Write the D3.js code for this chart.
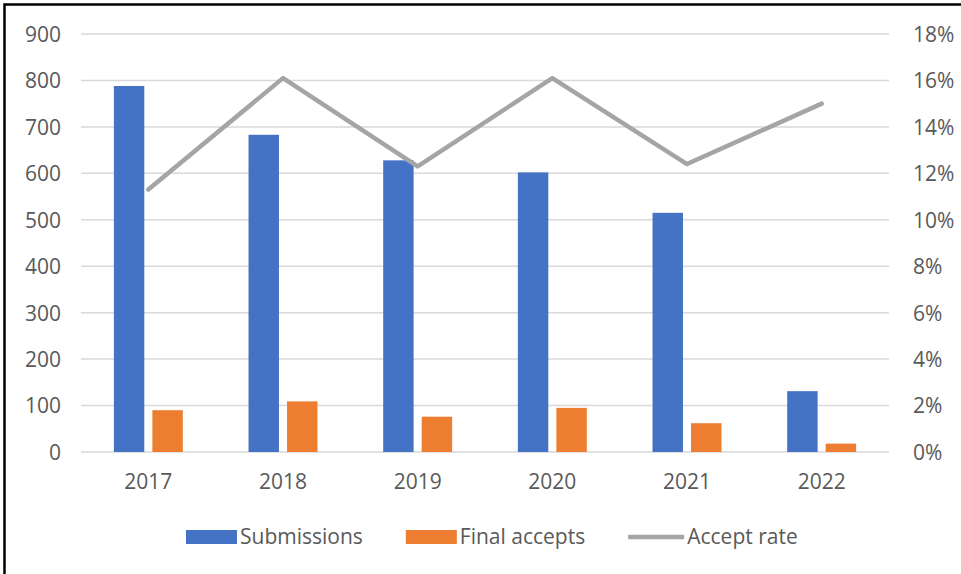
<!DOCTYPE html>
<html>
<head>
<meta charset="utf-8">
<script src="https://cdn.jsdelivr.net/npm/d3@7"></script>
<style>
  html, body { margin: 0; padding: 0; background: #fff; }
  svg text { font-family: "Open Sans", Lato, sans-serif; fill: #595959; }
</style>
</head>
<body>
<div id="chart"></div>
<script>
// Data
const years = ["2017", "2018", "2019", "2020", "2021", "2022"];
const submissions = [788, 683, 628, 602, 515, 131];
const finalAccepts = [90, 109, 76, 95, 62, 18];
const acceptRate = [0.113, 0.161, 0.123, 0.161, 0.124, 0.150];
const leftTicks = [0, 100, 200, 300, 400, 500, 600, 700, 800, 900];
const rightTicks = [0, 0.02, 0.04, 0.06, 0.08, 0.10, 0.12, 0.14, 0.16, 0.18];
const seriesNames = ["Submissions", "Final accepts", "Accept rate"];
const colors = { "Submissions": "#4472c4", "Final accepts": "#ed7d31", "Accept rate": "#a5a5a5" };

const width = 961, height = 574;
const margin = { top: 34, right: 72, bottom: 122, left: 81 };
const fontSize = "21px";

const svg = d3.select("#chart").append("svg")
    .attr("width", width)
    .attr("height", height);

// outer frame (only top and left edges show in the picture)
svg.append("rect")
    .attr("x", 4.5).attr("y", 4.5)
    .attr("width", width + 20).attr("height", height + 20)
    .attr("fill", "none")
    .attr("stroke", "#000")
    .attr("stroke-width", 2.5);

const x = d3.scaleBand()
    .domain(years)
    .range([margin.left, width - margin.right]);

const yLeft = d3.scaleLinear()
    .domain([0, 900])
    .range([height - margin.bottom, margin.top]);

const yRight = d3.scaleLinear()
    .domain([0, 0.18])
    .range([height - margin.bottom, margin.top]);

const groupWidth = x.bandwidth() * 0.512;
const xSub = d3.scaleBand()
    .domain(["Submissions", "Final accepts"])
    .range([-groupWidth / 2, groupWidth / 2])
    .paddingInner(0.21);

// gridlines
svg.append("g")
    .selectAll("line")
    .data(leftTicks)
    .join("line")
    .attr("x1", margin.left)
    .attr("x2", width - margin.right)
    .attr("y1", d => yLeft(d))
    .attr("y2", d => yLeft(d))
    .attr("stroke", "#d9d9d9")
    .attr("stroke-width", 1.5);

// left axis labels
const leftAxis = svg.append("g")
    .attr("transform", `translate(${margin.left - 20},0)`)
    .call(d3.axisLeft(yLeft).tickValues(leftTicks).tickSize(0).tickPadding(0));
leftAxis.select(".domain").remove();
leftAxis.selectAll("text")
    .style("font-size", fontSize)
    .style("fill", "#595959")
    .attr("dy", "0.35em");

// right axis labels
const rightAxis = svg.append("g")
    .attr("transform", `translate(${width - margin.right + 24},0)`)
    .call(d3.axisRight(yRight).tickValues(rightTicks).tickFormat(d3.format(".0%")).tickSize(0).tickPadding(0));
rightAxis.select(".domain").remove();
rightAxis.selectAll("text")
    .style("font-size", fontSize)
    .style("fill", "#595959")
    .attr("dy", "0.35em");

// x axis labels
const xAxis = svg.append("g")
    .attr("transform", `translate(0,${height - margin.bottom + 22})`)
    .call(d3.axisBottom(x).tickSize(0).tickPadding(0));
xAxis.select(".domain").remove();
xAxis.selectAll("text")
    .style("font-size", fontSize)
    .style("fill", "#595959")
    .attr("dy", "0.71em");

// bars
const barSeries = [
    { name: "Submissions", values: submissions },
    { name: "Final accepts", values: finalAccepts }
];

barSeries.forEach(s => {
    svg.append("g")
        .selectAll("rect")
        .data(s.values)
        .join("rect")
        .attr("x", (d, i) => x(years[i]) + x.bandwidth() / 2 + xSub(s.name))
        .attr("y", d => yLeft(d))
        .attr("width", xSub.bandwidth())
        .attr("height", d => yLeft(0) - yLeft(d))
        .attr("fill", colors[s.name]);
});

// accept rate line
const line = d3.line()
    .x((d, i) => x(years[i]) + x.bandwidth() / 2)
    .y(d => yRight(d));

svg.append("path")
    .datum(acceptRate)
    .attr("d", line)
    .attr("fill", "none")
    .attr("stroke", colors["Accept rate"])
    .attr("stroke-width", 4.5)
    .attr("stroke-linejoin", "round")
    .attr("stroke-linecap", "round");

// legend
const legend = svg.append("g").attr("transform", "translate(186,537)");
let lx = 0;
seriesNames.forEach(name => {
    const item = legend.append("g").attr("transform", `translate(${lx},0)`);
    if (name === "Accept rate") {
        item.append("line")
            .attr("x1", 0).attr("x2", 56)
            .attr("y1", 0).attr("y2", 0)
            .attr("stroke", colors[name])
            .attr("stroke-width", 4.5);
    } else {
        item.append("rect")
            .attr("x", 0).attr("y", -7)
            .attr("width", 51).attr("height", 14)
            .attr("fill", colors[name]);
    }
    const sw = name === "Accept rate" ? 57 : 52;
    const t = item.append("text")
        .attr("x", sw + 2)
        .attr("y", 0)
        .attr("dy", "0.35em")
        .style("font-size", fontSize)
        .text(name);
    lx += sw + 2 + t.node().getComputedTextLength() + 43;
});
</script>
</body>
</html>
